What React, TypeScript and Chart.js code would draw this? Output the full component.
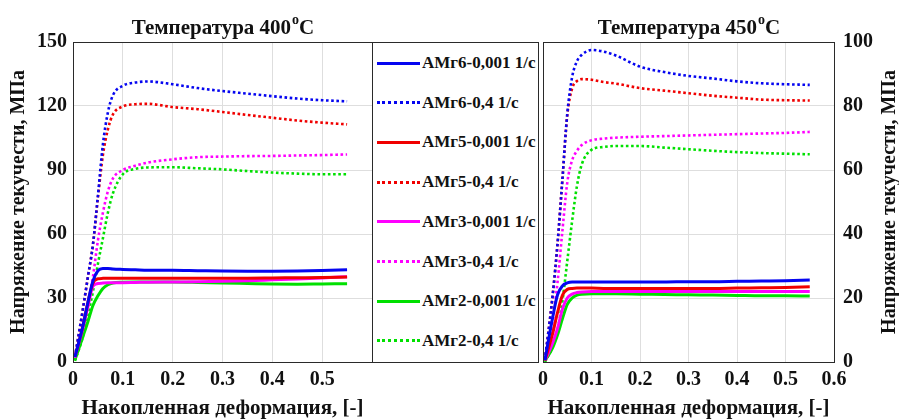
import React, { useEffect, useRef } from 'react';
import { Chart, registerables } from 'chart.js';

Chart.register(...registerables);

const FONT = "'Liberation Serif', 'Times New Roman', serif";
const TEXT_COLOR = '#111111';
const GRID_COLOR = '#dedede';
const BOX_COLOR = '#2a2a2a';

// Accumulated strain (x) shared by all curves
const STRAIN = [0.004, 0.02, 0.03, 0.04, 0.05, 0.06, 0.07, 0.08, 0.1, 0.125, 0.15, 0.2, 0.25, 0.3, 0.35, 0.4, 0.45, 0.5, 0.55];

const X_TICKS = [0, 0.1, 0.2, 0.3, 0.4, 0.5, 0.6];
const Y_TICKS_400 = [0, 30, 60, 90, 120, 150];
const Y_TICKS_450 = [0, 20, 40, 60, 80, 100];

const SERIES_NAMES = [
  'АМг6-0,001 1/с',
  'АМг6-0,4 1/с',
  'АМг5-0,001 1/с',
  'АМг5-0,4 1/с',
  'АМг3-0,001 1/с',
  'АМг3-0,4 1/с',
  'АМг2-0,001 1/с',
  'АМг2-0,4 1/с',
];
const SERIES_COLORS = ['#0505f0', '#0505f0', '#f00000', '#f00000', '#ff00ff', '#ff00ff', '#00e000', '#00e000'];
const SERIES_DOTTED = [false, true, false, true, false, true, false, true];

// Temperature 400 °C, stress in MPa
const T400_AMG6_SLOW = [2.4, 17, 28, 38, 42.8, 43.8, 43.8, 43.6, 43.4, 43.2, 43.0, 43.0, 42.8, 42.6, 42.5, 42.5, 42.6, 42.9, 43.3];
const T400_AMG6_FAST = [2.4, 25, 40, 55, 78, 102, 117, 125, 129.5, 131, 131.5, 130.2, 128.4, 127, 125.8, 124.6, 123.5, 122.7, 122.2];
const T400_AMG5_SLOW = [2.4, 17, 28, 37, 39, 39.2, 39.3, 39.3, 39.3, 39.3, 39.3, 39.3, 39.3, 39.3, 39.3, 39.4, 39.5, 39.6, 39.8];
const T400_AMG5_FAST = [2.4, 25, 40, 55, 77, 97, 109, 116, 119.8, 120.8, 121, 119.5, 118.5, 117.2, 115.8, 114.5, 113.2, 112.2, 111.4];
const T400_AMG3_SLOW = [2.4, 16, 26, 35.5, 36.8, 37, 37.1, 37.1, 37.2, 37.3, 37.4, 37.5, 37.6, 37.8, 38.1, 38.5, 38.9, 39.4, 40];
const T400_AMG3_FAST = [2, 18, 28, 40, 57, 70, 80, 86, 90, 92, 93.5, 95, 96, 96.3, 96.5, 96.6, 96.8, 97, 97.3];
const T400_AMG2_SLOW = [1, 12, 19, 26.5, 31, 34.5, 36.2, 37, 37.4, 37.5, 37.5, 37.5, 37.3, 37, 36.8, 36.6, 36.5, 36.6, 36.7];
const T400_AMG2_FAST = [0.5, 12, 22, 33, 46, 58, 70, 79, 88, 90.5, 91.2, 91.3, 90.8, 90.3, 89.5, 88.8, 88.3, 88, 88];

// Temperature 450 °C, stress in MPa
const T450_AMG6_SLOW = [0.6, 14, 21, 23.8, 24.7, 25, 25, 25, 25, 25, 25, 25, 25, 25.1, 25.1, 25.2, 25.3, 25.4, 25.6];
const T450_AMG6_FAST = [0.6, 21, 37, 57, 77.5, 89, 94, 96, 97.5, 97, 95.8, 92.3, 90.6, 89.4, 88.6, 87.7, 87.1, 86.8, 86.6];
const T450_AMG5_SLOW = [0.5, 9, 15.5, 20.8, 22.7, 23, 23.1, 23.1, 23.1, 23, 23, 23, 23, 23, 23, 23.1, 23.2, 23.3, 23.5];
const T450_AMG5_FAST = [0.6, 21, 37, 57, 77, 85.5, 87.8, 88.4, 88.2, 87.5, 87, 85.6, 84.8, 84, 83.2, 82.6, 82, 81.8, 81.7];
const T450_AMG3_SLOW = [0.4, 6, 10.5, 16.5, 20, 21.2, 21.7, 21.9, 22, 22, 22, 22, 22, 22, 22, 22, 22, 22, 22];
const T450_AMG3_FAST = [0.6, 13, 25, 41, 56, 63, 66, 67.8, 69.3, 69.8, 70.1, 70.4, 70.6, 70.8, 71, 71.2, 71.4, 71.6, 71.9];
const T450_AMG2_SLOW = [0.3, 4.5, 8.5, 13.5, 18, 20, 20.9, 21.2, 21.3, 21.3, 21.3, 21.2, 21.1, 21, 20.9, 20.8, 20.7, 20.7, 20.6];
const T450_AMG2_FAST = [0, 5, 10, 19, 31.5, 44, 55, 61.8, 66.3, 67.2, 67.5, 67.5, 67, 66.5, 66, 65.6, 65.3, 65.1, 64.9];

const T400 = [T400_AMG6_SLOW, T400_AMG6_FAST, T400_AMG5_SLOW, T400_AMG5_FAST, T400_AMG3_SLOW, T400_AMG3_FAST, T400_AMG2_SLOW, T400_AMG2_FAST];
const T450 = [T450_AMG6_SLOW, T450_AMG6_FAST, T450_AMG5_SLOW, T450_AMG5_FAST, T450_AMG3_SLOW, T450_AMG3_FAST, T450_AMG2_SLOW, T450_AMG2_FAST];

const X_TITLE = 'Накопленная деформация, [-]';
const Y_TITLE = 'Напряжение текучести, МПа';

function makeDatasets(values: number[][]) {
  return values.map((ys, i) => ({
    label: SERIES_NAMES[i],
    data: STRAIN.map((x, j) => ({ x, y: ys[j] })),
    borderColor: SERIES_COLORS[i],
    backgroundColor: SERIES_COLORS[i],
    borderWidth: SERIES_DOTTED[i] ? 2.6 : 3,
    borderDash: SERIES_DOTTED[i] ? [2.6, 2.6] : [],
    pointRadius: 0,
    cubicInterpolationMode: 'monotone' as const,
    fill: false,
  }));
}

const supTitlePlugin = {
  id: 'supTitle',
  afterDraw(chart: any, _args: any, opts: any) {
    const { ctx, chartArea } = chart;
    ctx.save();
    const big = `bold ${opts.size}px ${FONT}`;
    const small = `bold ${opts.supSize}px ${FONT}`;
    ctx.font = big;
    const w1 = ctx.measureText(opts.main).width;
    const w3 = ctx.measureText(opts.tail).width;
    ctx.font = small;
    const w2 = ctx.measureText(opts.sup).width;
    let x = (chartArea.left + chartArea.right) / 2 - (w1 + w2 + w3) / 2;
    const y = opts.baseline;
    ctx.fillStyle = TEXT_COLOR;
    ctx.textAlign = 'left';
    ctx.textBaseline = 'alphabetic';
    ctx.font = big;
    ctx.fillText(opts.main, x, y);
    x += w1 + 1;
    ctx.font = small;
    ctx.fillText(opts.sup, x, y - opts.raise);
    x += w2;
    ctx.font = big;
    ctx.fillText(opts.tail, x, y);
    ctx.restore();
  },
};

const boxPlugin = {
  id: 'axesBox',
  afterDatasetsDraw(chart: any) {
    const { ctx, chartArea } = chart;
    ctx.save();
    ctx.strokeStyle = BOX_COLOR;
    ctx.lineWidth = 1;
    ctx.strokeRect(
      Math.round(chartArea.left) + 0.5,
      Math.round(chartArea.top) + 0.5,
      Math.round(chartArea.right - chartArea.left),
      Math.round(chartArea.bottom - chartArea.top)
    );
    ctx.restore();
  },
};

const sideTitlePlugin = {
  id: 'sideTitle',
  afterDraw(chart: any, _args: any, opts: any) {
    if (!opts || !opts.text) return;
    const { ctx, chartArea } = chart;
    ctx.save();
    ctx.translate(chart.width - opts.offset, (chartArea.top + chartArea.bottom) / 2);
    ctx.rotate(-Math.PI / 2);
    ctx.font = `bold ${opts.size}px ${FONT}`;
    ctx.fillStyle = TEXT_COLOR;
    ctx.textAlign = 'center';
    ctx.textBaseline = 'middle';
    ctx.fillText(opts.text, 0, 0);
    ctx.restore();
  },
};

function tickFont(size: number) {
  return { family: FONT, size, weight: 'bold' as const, lineHeight: 1 };
}

function buildConfig(values: number[][], yTicks: number[], yMax: number, side: 'left' | 'right', titleMain: string): any {
  const isLeft = side === 'left';
  return {
    type: 'line',
    data: { datasets: makeDatasets(values) },
    options: {
      responsive: false,
      animation: false,
      events: [],
      layout: { padding: isLeft ? { top: 42, right: 8, left: 0, bottom: 0 } : { top: 42, right: 0, left: 8, bottom: 0 } },
      plugins: {
        legend: { display: false },
        tooltip: { enabled: false },
        title: { display: false },
        supTitle: { main: titleMain, sup: 'o', tail: 'C', size: 21, supSize: 14, raise: 10, baseline: 34 },
        sideTitle: isLeft ? { text: '' } : { text: Y_TITLE, size: 20, offset: 9 },
      },
      scales: {
        x: {
          type: 'linear',
          min: 0,
          max: 0.6,
          afterBuildTicks: (scale: any) => {
            scale.ticks = X_TICKS.map((v) => ({ value: v }));
          },
          afterFit: (scale: any) => {
            scale.height = 57;
          },
          grid: { color: GRID_COLOR, drawTicks: false, lineWidth: 1 },
          border: { display: false },
          ticks: {
            padding: 8,
            color: TEXT_COLOR,
            font: tickFont(20),
            maxRotation: 0,
            callback: (v: any) => (isLeft && v === 0.6 ? '' : String(v)),
          },
          title: {
            display: true,
            text: X_TITLE,
            color: TEXT_COLOR,
            font: tickFont(21),
            padding: { top: 0, bottom: 0 },
          },
        },
        y: {
          type: 'linear',
          position: side,
          min: 0,
          max: yMax,
          afterBuildTicks: (scale: any) => {
            scale.ticks = yTicks.map((v) => ({ value: v }));
          },
          afterFit: (scale: any) => {
            scale.width = isLeft ? 73 : 65;
          },
          grid: { color: GRID_COLOR, drawTicks: false, lineWidth: 1 },
          border: { display: false },
          ticks: {
            padding: isLeft ? 6 : 9,
            color: TEXT_COLOR,
            font: tickFont(20),
            callback: (v: any) => String(v),
          },
          title: {
            display: isLeft,
            text: Y_TITLE,
            color: TEXT_COLOR,
            font: tickFont(20),
            padding: { top: 9, bottom: 0 },
          },
        },
      },
    },
    plugins: [supTitlePlugin, boxPlugin, sideTitlePlugin],
  };
}

export default function App() {
  const leftRef = useRef<HTMLCanvasElement | null>(null);
  const rightRef = useRef<HTMLCanvasElement | null>(null);

  useEffect(() => {
    document.body.style.margin = '0';
    const left = new Chart(leftRef.current as HTMLCanvasElement, buildConfig(T400, Y_TICKS_400, 150, 'left', 'Температура 400'));
    const right = new Chart(rightRef.current as HTMLCanvasElement, buildConfig(T450, Y_TICKS_450, 100, 'right', 'Температура 450'));
    return () => {
      left.destroy();
      right.destroy();
    };
  }, []);

  return (
    <div style={{ position: 'relative', width: 899, height: 419, background: '#ffffff', overflow: 'hidden' }}>
      <canvas ref={leftRef} width={380} height={419} style={{ position: 'absolute', left: 0, top: 0, width: 380, height: 419 }} />
      <canvas ref={rightRef} width={369} height={419} style={{ position: 'absolute', left: 530, top: 0, width: 369, height: 419 }} />
      <div
        style={{
          position: 'absolute',
          left: 372,
          top: 42,
          width: 167,
          height: 321,
          boxSizing: 'border-box',
          border: `1px solid ${BOX_COLOR}`,
          background: '#ffffff',
        }}
      >
        {SERIES_NAMES.map((name, i) => (
          <div key={name} style={{ position: 'absolute', left: 0, top: 20 + i * 39.7, width: '100%', height: 0 }}>
            <div
              style={{
                position: 'absolute',
                left: 4,
                top: -1.5,
                width: 43,
                height: 0,
                borderTop: `3px ${SERIES_DOTTED[i] ? 'dotted' : 'solid'} ${SERIES_COLORS[i]}`,
              }}
            />
            <span
              style={{
                position: 'absolute',
                left: 49,
                top: -10,
                font: `bold 17px ${FONT}`,
                lineHeight: '20px',
                whiteSpace: 'nowrap',
                color: TEXT_COLOR,
              }}
            >
              {name}
            </span>
          </div>
        ))}
      </div>
    </div>
  );
}
